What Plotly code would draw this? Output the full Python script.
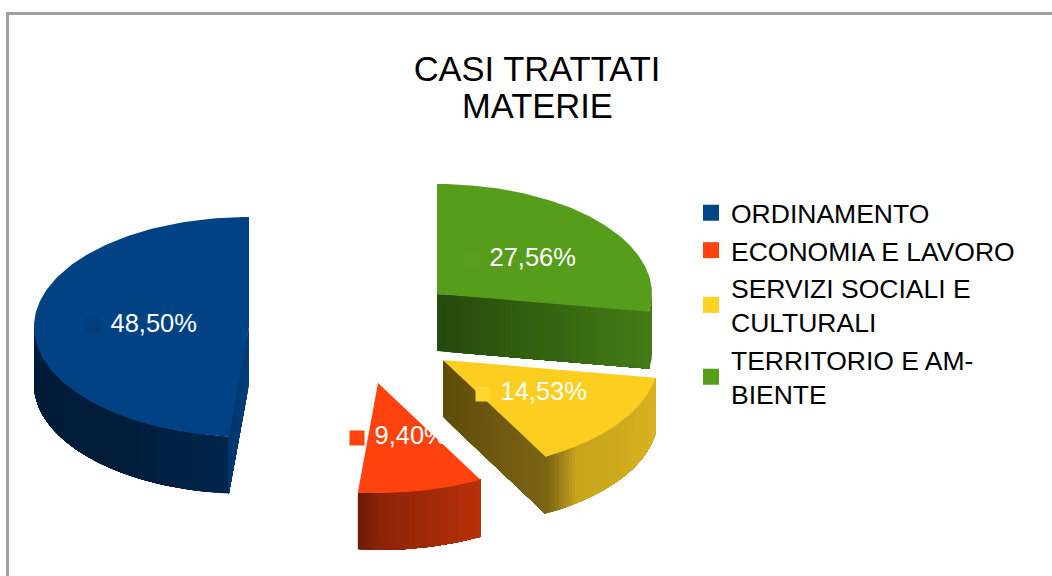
import math
import plotly.graph_objects as go

# ---- data ----
categories = ["ORDINAMENTO", "ECONOMIA E LAVORO", "SERVIZI SOCIALI E<br>CULTURALI", "TERRITORIO E AM-<br>BIENTE"]
values = [48.50, 9.40, 14.53, 27.56]
title_lines = ["CASI TRATTATI", "MATERIE"]

# ---- styling / layout ----
legend_colors = ["#004586", "#ff420e", "#ffd320", "#579d1c"]
top_colors = ["#004283", "#ff420e", "#fcce20", "#579d1c"]
key_colors = ["#033f7a", "#ff420e", "#fdd52e", "#5a9e20"]
apex = [(249, 327), (378, 383), (443, 360), (437, 294)]
label_anchor = [(93, 326), (357, 438), (483, 394), (472, 260)]
RX, RY, DEPTH = 215, 110, 57
FONT = "Liberation Sans"

outer_grad = [
    [(0, "#00264c"), (0.35, "#001d3a"), (1, "#001c38")],
    [(0, "#6e1c05"), (0.15, "#8a2507"), (1, "#bb310a")],
    [(0, "#7d6514"), (0.18, "#c9a51d"), (1, "#dab420")],
    [(0, "#447c16"), (1, "#447c16")],
]
cut_grad = [
    [(0, "#003f7b"), (1, "#00376c")],
    None,
    [(0, "#5f4c0b"), (1, "#7d6514")],
    [(0, "#264b0d"), (1, "#447c16")],
]


def hex2rgb(h):
    return tuple(int(h[i:i + 2], 16) for i in (1, 3, 5))


def grad(stops, t):
    for (p0, c0), (p1, c1) in zip(stops, stops[1:]):
        if t <= p1:
            f = (t - p0) / (p1 - p0)
            a, b = hex2rgb(c0), hex2rgb(c1)
            return "rgb(%d,%d,%d)" % tuple(a[i] + (b[i] - a[i]) * f for i in range(3))
    return stops[-1][1]


def pt(i, theta):
    ax, ay = apex[i]
    return ax - RX * math.sin(theta), ay - RY * math.cos(theta)


total = sum(values)
bounds = [0.0]
for v in values:
    bounds.append(bounds[-1] + v / total * 2 * math.pi)

fig = go.Figure()


def poly(xs, ys, color):
    fig.add_trace(go.Scatter(
        x=xs + xs[:1], y=ys + ys[:1], mode="lines", fill="toself", fillcolor=color,
        line=dict(color=color, width=0), hoverinfo="skip", showlegend=False))


N = 50
for i in range(4):
    t0, t1 = bounds[i], bounds[i + 1]
    # outer rim (only the lower half of the ellipse is visible)
    lo, hi = max(t0, math.pi / 2), min(t1, 3 * math.pi / 2)
    bands = 4 if i == 3 else N
    for k in range(bands):
        a = k / bands
        n = 40
        if i == 0:  # blue: runs from the cut edge towards the left
            ang = [hi - (hi - lo) * (a + (1 - a) * j / n) for j in range(n + 1)]
        else:       # the others run from the bottom left to the right
            ang = [lo + (hi - lo) * (a + (1 - a) * j / n) for j in range(n + 1)]
        pts = [pt(i, th) for th in ang]
        xs = [p[0] for p in pts]
        ys = [p[1] for p in pts]
        poly(xs + xs[::-1], ys + [y + DEPTH for y in ys[::-1]], grad(outer_grad[i], a))
    # cut face: each band covers everything up to the far end, so no seams show
    if cut_grad[i]:
        ax, ay = apex[i]
        ex, ey = pt(i, t1 if i == 0 else t0)
        for k in range(N):
            a = k / N
            x0, y0 = ax + (ex - ax) * a, ay + (ey - ay) * a
            poly([x0, ex, ex, x0], [y0, ey, ey + DEPTH, y0 + DEPTH], grad(cut_grad[i], a))
    # top face
    steps = 120
    xs, ys = [apex[i][0]], [apex[i][1]]
    for k in range(steps + 1):
        x, y = pt(i, t0 + (t1 - t0) * k / steps)
        xs.append(x)
        ys.append(y)
    poly(xs, ys, top_colors[i])

# data labels with their small keys
for i, v in enumerate(values):
    fig.add_trace(go.Scatter(
        x=[label_anchor[i][0]], y=[label_anchor[i][1]], mode="markers+text",
        marker=dict(symbol="square", size=15, color=key_colors[i]),
        text=[" " + f"{v:.2f}".replace(".", ",") + "%"], textposition="middle right",
        textfont=dict(family=FONT, size=25.5, color="white"),
        hoverinfo="skip", showlegend=False))

# legend entries
for i, c in enumerate(categories):
    fig.add_trace(go.Scatter(
        x=[None], y=[None], mode="markers", name=c, legendgroup=str(i),
        marker=dict(symbol="square", size=16, color=legend_colors[i])))

fig.update_layout(
    width=1052, height=576, autosize=False,
    margin=dict(l=0, r=0, t=0, b=0),
    paper_bgcolor="white", plot_bgcolor="white",
    xaxis=dict(range=[0, 1052], visible=False, fixedrange=True),
    yaxis=dict(range=[576, 0], visible=False, fixedrange=True),
    title=dict(text=title_lines[0], x=537 / 1052, xanchor="center", y=1 - 69 / 576, yanchor="middle",
               font=dict(family=FONT, size=34.5, color="black")),
    annotations=[dict(text=title_lines[1], x=537, y=106, xref="x", yref="y", showarrow=False,
                      font=dict(family=FONT, size=34.5, color="black"))],
    legend=dict(x=691 / 1052, y=1 - 189 / 576, xanchor="left", yanchor="top",
                font=dict(family=FONT, size=26.5, color="black"),
                bgcolor="rgba(0,0,0,0)", tracegroupgap=2, itemwidth=30, traceorder="normal"),
    shapes=[dict(type="path", path="M 7.5 576 L 7.5 13.5 L 1052 13.5", xref="x", yref="y",
                 line=dict(color="#a0a0a0", width=3), layer="below")],
    showlegend=True,
)
fig.write_html("out.html", config={"displayModeBar": False},
               post_script="document.body.style.margin='0';document.body.style.overflow='hidden';")
